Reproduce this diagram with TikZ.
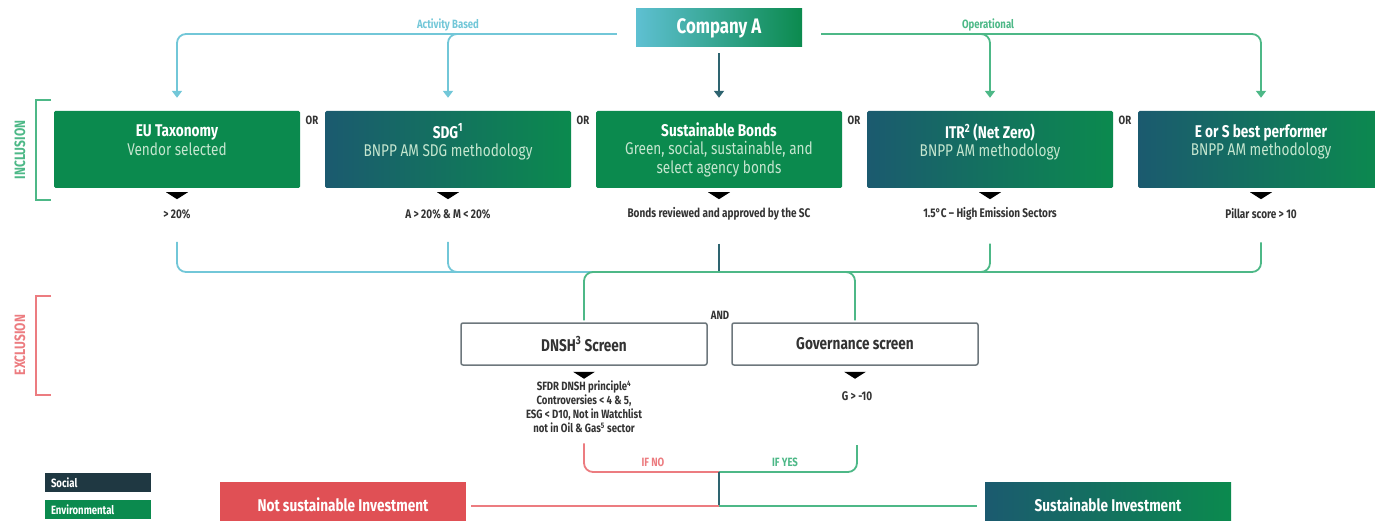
\documentclass[tikz,border=0pt]{standalone}
\usepackage{fontspec}
\setmainfont{Fira Sans}[FakeStretch=0.8]
\usetikzlibrary{arrows.meta,calc}

\definecolor{envgreen}{HTML}{0B8A4E}
\definecolor{socteal}{HTML}{1B5A6F}
\definecolor{socdark}{HTML}{1F3842}
\definecolor{compblue}{HTML}{5EC0D2}
\definecolor{actblue}{HTML}{72C7D8}
\definecolor{opgreen}{HTML}{4DB887}
\definecolor{exred}{HTML}{E05055}
\definecolor{exline}{HTML}{EC7C80}
\definecolor{subtxt}{HTML}{C5E6CF}
\definecolor{darktxt}{HTML}{333333}
\definecolor{screenborder}{HTML}{6D777C}
\definecolor{ctrline}{HTML}{2E6470}

\begin{document}
\begin{tikzpicture}[x=1pt,y=-1pt,
    box/.style={minimum width=246pt,minimum height=77pt,inner sep=0pt,text=white,align=center,
      rounded corners=1.5pt,font=\fontsize{17}{18.5}\selectfont},
    envbox/.style={box,fill=envgreen},
    socbox/.style={box,left color=socteal,right color=envgreen},
    screen/.style={draw=screenborder,line width=1.5pt,rounded corners=2pt,minimum width=246pt,
      minimum height=42pt,text=darktxt,font=\fontsize{17}{18}\selectfont\bfseries},
    result/.style={minimum width=246pt,minimum height=46pt,inner sep=0pt,text=white,
      font=\fontsize{17}{18}\selectfont\bfseries},
    gtlabel/.style={text=darktxt,font=\fontsize{12.5}{14}\selectfont\bfseries,align=center,inner sep=1pt},
    smalllab/.style={font=\fontsize{12}{13}\selectfont\bfseries},
    legend/.style={minimum width=106pt,minimum height=19pt,text width=94pt,inner xsep=6pt,inner ysep=0pt,
      align=left,text=white,font=\fontsize{12}{13}\selectfont\bfseries},
    actline/.style={actblue,line width=1.8pt,rounded corners=9pt},
    opline/.style={opgreen,line width=1.8pt,rounded corners=9pt},
    redline/.style={exline,line width=1.8pt,rounded corners=9pt},
    tip/.style={-{Triangle[width=10pt,length=7pt]},shorten >=13pt}]

  \useasboundingbox (0,0) rectangle (1375,521);

  % --------------------------------------------------------- %
  % ------------- top node (Company A)
  % --------------------------------------------------------- %
  \node[minimum width=166pt,minimum height=38pt,left color=compblue,right color=envgreen,text=white,
    font=\fontsize{21}{22}\selectfont\bfseries] (compA) at (719,28) {Company A};

  \node[smalllab,text=actblue] (actlab) at (448,25) {Activity Based};
  \node[smalllab,text=opgreen] (oplab) at (988,25) {Operational};

  % --------------------------------------------------------- %
  % ------------ inclusion criteria
  % --------------------------------------------------------- %
  \node[envbox] (eu) at (177,149.5) {\textbf{EU Taxonomy}\\{\color{subtxt}Vendor selected}\\~};
  \node[socbox] (sdg) at (448,149.5) {\textbf{SDG\textsuperscript{1}}\\{\color{subtxt}BNPP AM SDG methodology}\\~};
  \node[envbox] (bonds) at (719,149.5) {\textbf{Sustainable Bonds}\\{\color{subtxt}Green, social, sustainable, and}\\{\color{subtxt}select agency bonds}};
  \node[socbox] (itr) at (990,149.5) {\textbf{ITR\textsuperscript{2} (Net Zero)}\\{\color{subtxt}BNPP AM methodology}\\~};
  \node[socbox] (best) at (1261,149.5) {\textbf{E or S best performer}\\{\color{subtxt}BNPP AM methodology}\\~};

  \foreach \x in {312,583,854,1125}
    \node[smalllab,text=darktxt] at (\x,120) {OR};

  \foreach \b in {eu,sdg,bonds,itr,best}
    \fill ($(\b.south)+(-11,4)$) -- ++(22,0) -- ++(-11,7) -- cycle;

  \node[gtlabel] (gt1) at (177,214) {> 20\%};
  \node[gtlabel] (gt2) at (448,214) {A > 20\% \& M < 20\%};
  \node[gtlabel] (gt3) at (719,214) {Bonds reviewed and approved by the SC};
  \node[gtlabel] (gt4) at (990,214) {1.5°C – High Emission Sectors};
  \node[gtlabel] (gt5) at (1261,214) {Pillar score > 10};

  % arrows from Company A
  \draw[actline,tip] ($(compA.west)+(-19,6)$) -| (eu.north);
  \draw[actline,tip] ($(compA.west)+(-19,6)$) -| (sdg.north);
  \draw[opline,tip] ($(compA.east)+(19,6)$) -| (itr.north);
  \draw[opline,tip] ($(compA.east)+(19,6)$) -| (best.north);
  \draw[ctrline,line width=1.8pt,tip] ($(compA.south)+(0,6)$) -- (bonds.north);

  % merge
  \coordinate (merge) at (719,272);
  \draw[actline] ($(gt1.south)+(0,22)$) |- (merge);
  \draw[actline] ($(gt2.south)+(0,22)$) |- (merge);
  \draw[opline] ($(gt4.south)+(0,22)$) |- (merge);
  \draw[opline] ($(gt5.south)+(0,22)$) |- (merge);
  \draw[ctrline,line width=1.8pt] ($(gt3.south)+(0,22)$) -- (merge);

  % --------------------------------------------------------- %
  % ------------ exclusion screens
  % --------------------------------------------------------- %
  \node[screen] (dnsh) at (584,344) {DNSH\textsuperscript{3} Screen};
  \node[screen] (gov) at (855,344) {Governance screen};
  \node[smalllab,text=darktxt] (and) at (720,315) {AND};

  \draw[opline] (merge) -| ($(dnsh.north)+(0,-2)$);
  \draw[opline] (merge) -| ($(gov.north)+(0,-2)$);

  \foreach \b in {dnsh,gov}
    \fill ($(\b.south)+(-11,6)$) -- ++(22,0) -- ++(-11,7) -- cycle;

  \node[gtlabel,font=\fontsize{12}{14}\selectfont\bfseries] (dtxt) at (584,407)
    {SFDR DNSH principle\textsuperscript{4}\\Controversies < 4 \& 5,\\ESG < D10, Not in Watchlist\\not in Oil \& Gas\textsuperscript{5} sector};
  \node[gtlabel] (gtxt) at (857,396) {G > -10};

  % --------------------------------------------------------- %
  % ------------ outcome
  % --------------------------------------------------------- %
  \coordinate (join) at (719,472);
  \coordinate (split) at (719,506);
  \draw[redline] ($(dtxt.south)+(0,9)$) |- (join);
  \draw[opline] ($(gtxt.center)+(0,49)$) |- (join);
  \node[smalllab,text=exline] (ifno) at (653,462) {IF NO};
  \node[smalllab,text=opgreen] (ifyes) at (785,462) {IF YES};

  \node[result,fill=exred] (notsi) at (343,505) {Not sustainable Investment};
  \node[result,left color=socteal,right color=envgreen] (si) at (1108,505) {Sustainable Investment};

  \draw[ctrline,line width=1.8pt] (join) -- (split);
  \draw[redline,shorten >=5pt] (split) -- (split -| notsi.east);
  \draw[opline,shorten >=8pt] (split) -- (split -| si.west);

  % legend
  \node[legend,fill=socdark] (social) at (98,482.5) {Social};
  \node[legend,fill=envgreen] (env) at (98,509.5) {Environmental};

  % brackets
  \draw[opgreen,line width=1.5pt] (51,100) -| (36,200) -- (51,200);
  \node[rotate=90,text=opgreen,font=\fontsize{15}{16}\selectfont\bfseries] (incl) at (20,150) {INCLUSION};
  \draw[exline,line width=1.5pt] (51,296) -| (36,395) -- (51,395);
  \node[rotate=90,text=exline,font=\fontsize{15}{16}\selectfont\bfseries] (excl) at (20,345) {EXCLUSION};

\end{tikzpicture}
\end{document}
